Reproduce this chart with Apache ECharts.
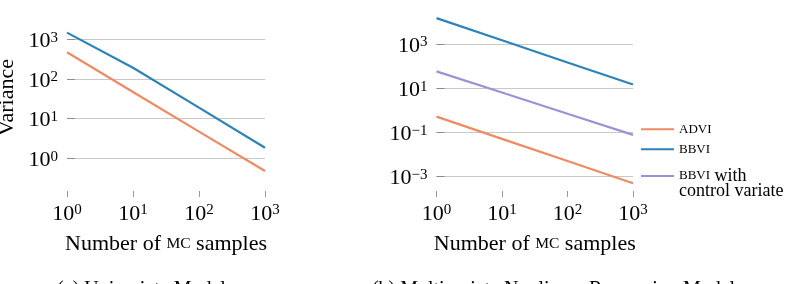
<!DOCTYPE html>
<html>
<head>
<meta charset="utf-8">
<script src="https://cdn.jsdelivr.net/npm/echarts@6/dist/echarts.min.js"></script>
<style>html,body{margin:0;padding:0;background:#fff}#c{width:792px;height:284px}</style>
</head>
<body>
<div id="c"></div>
<script>
// ---- data ----
const mcSamples = [1, 10, 100, 1000];
const uniADVI = [470, 47, 4.7, 0.48];
const uniBBVI = [1470, 192, 19, 1.85];
const multiADVI = [0.51, 0.05, 0.0049, 0.00048];
const multiBBVI = [15000, 1480, 146, 14.5];
const multiBBVICV = [57.5, 6.3, 0.69, 0.076];
const xTickExp = [0, 1, 2, 3];
const uniYTickExp = [0, 1, 2, 3];
const multiYTickExp = [-3, -1, 1, 3];
const seriesNames = ['ADVI', 'BBVI', 'BBVI with control variate'];
const captions = ['(a) Univariate Model', '(b) Multivariate Nonlinear Regression Model'];

const FONT = '"Liberation Serif", "DejaVu Serif", serif';
const COLORS = { ADVI: '#EF8A62', BBVI: '#2B83BA', CV: '#9E90D6' };

function toLog(xs, ys) { return xs.map((x, i) => [Math.log10(x), Math.log10(ys[i])]); }
function supText(v) { return String(v).replace('-', '\u2212'); }
const powRich = {
  b: { fontFamily: FONT, fontSize: 22, lineHeight: 22, verticalAlign: 'bottom', color: '#000' },
  s: { fontFamily: FONT, fontSize: 15, lineHeight: 15, verticalAlign: 'top', padding: [0, 0, 10, 0], color: '#000' }
};
function powFmt(v) { return '{b|10}{s|' + supText(Math.round(v)) + '}'; }

function xAxisFor(idx) {
  return {
    type: 'value', gridIndex: idx, min: 0, max: 3, interval: 1,
    axisLine: { show: false, onZero: false },
    axisTick: { show: true, inside: true, length: 6, lineStyle: { color: '#999', width: 1 }, customValues: xTickExp },
    axisLabel: { margin: 6, formatter: powFmt, rich: powRich, customValues: xTickExp },
    splitLine: { show: false },
    name: 'Number of {sc|MC} samples',
    nameLocation: 'middle', nameGap: 30,
    nameTextStyle: { fontFamily: FONT, fontSize: 22, color: '#000',
      rich: { sc: { fontFamily: FONT, fontSize: 15.5, color: '#000' } } }
  };
}
function yAxisFor(idx, mn, mx, ticks, extra) {
  return Object.assign({
    type: 'value', gridIndex: idx, min: mn, max: mx,
    axisLine: { show: false, onZero: false },
    axisTick: { show: true, inside: true, length: 8, lineStyle: { color: '#8c8c8c', width: 1 }, customValues: ticks },
    axisLabel: { margin: 9, formatter: powFmt, rich: powRich, customValues: ticks, padding: [4, 0, 0, 0] },
    splitLine: { show: true, lineStyle: { color: '#c8c8c8', width: 1 } }
  }, extra || {});
}
function lineSeries(name, color, xi, data) {
  return {
    type: 'line', name: name, xAxisIndex: xi, yAxisIndex: xi, data: data,
    symbol: 'none', smooth: false, animation: false,
    lineStyle: { color: color, width: 2.2 }, itemStyle: { color: color }
  };
}

const chart = echarts.init(document.getElementById('c'), null, { renderer: 'canvas' });
chart.setOption({
  animation: false,
  backgroundColor: '#fff',
  grid: [
    { left: 67, top: -2, width: 198, height: 199, containLabel: false, outerBoundsMode: 'none' },
    { left: 436.5, top: 11, width: 196.5, height: 186, containLabel: false, outerBoundsMode: 'none' }
  ],
  xAxis: [xAxisFor(0), xAxisFor(1)],
  yAxis: [
    yAxisFor(0, -0.975, 4.04, uniYTickExp, {
      name: 'Variance', nameLocation: 'middle', nameGap: 49, nameRotate: 90,
      nameTextStyle: { fontFamily: FONT, fontSize: 22, color: '#000' }
    }),
    yAxisFor(1, -3.94, 4.5, multiYTickExp)
  ],
  legend: {
    orient: 'vertical', left: 641, top: 119.3, padding: 0, itemGap: 0,
    itemWidth: 33, itemHeight: 2, icon: 'rect',
    data: seriesNames,
    formatter: function (n) {
      if (n === 'ADVI') return '{sc|ADVI}';
      if (n === 'BBVI') return '{sc|BBVI}';
      return '{sc3|BBVI}{t3| with}';
    },
    textStyle: {
      fontFamily: FONT, fontSize: 18, lineHeight: 20, color: '#000',
      rich: {
        sc: { fontFamily: FONT, fontSize: 13, lineHeight: 20, color: '#000' },
        sc3: { fontFamily: FONT, fontSize: 13, lineHeight: 33.4, color: '#000' },
        t3: { fontFamily: FONT, fontSize: 18, lineHeight: 33.4, color: '#000' }
      }
    }
  },
  graphic: [
    { type: 'text', left: 679, top: 182, style: { text: 'control variate', font: '18px ' + FONT, fill: '#000' } },
    { type: 'text', x: 141.5, y: 279.5, style: { text: captions[0], font: '20px ' + FONT, fill: '#000', align: 'center', verticalAlign: 'top' } },
    { type: 'text', x: 553.5, y: 279.5, style: { text: captions[1], font: '20px ' + FONT, fill: '#000', align: 'center', verticalAlign: 'top' } }
  ],
  series: [
    lineSeries(seriesNames[0], COLORS.ADVI, 0, toLog(mcSamples, uniADVI)),
    lineSeries(seriesNames[1], COLORS.BBVI, 0, toLog(mcSamples, uniBBVI)),
    lineSeries(seriesNames[0], COLORS.ADVI, 1, toLog(mcSamples, multiADVI)),
    lineSeries(seriesNames[1], COLORS.BBVI, 1, toLog(mcSamples, multiBBVI)),
    lineSeries(seriesNames[2], COLORS.CV, 1, toLog(mcSamples, multiBBVICV))
  ]
});
</script>
</body>
</html>
